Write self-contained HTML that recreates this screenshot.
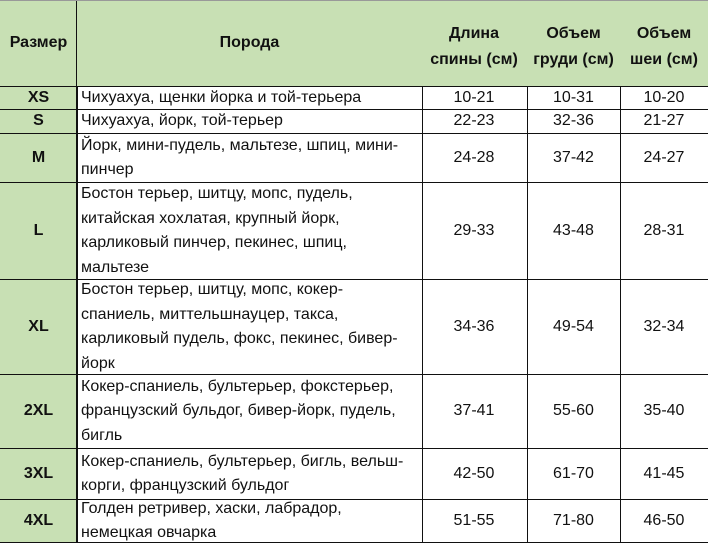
<!DOCTYPE html><html><head><style>
body{margin:0;width:708px;height:543px;background:#fff;font-family:"Liberation Sans",sans-serif;font-size:16px;color:#111;position:relative;overflow:hidden}
.c{position:absolute;box-sizing:border-box;border-right:1.5px solid #111;border-bottom:1.5px solid #111;display:flex;align-items:center;justify-content:center;text-align:center;line-height:24.5px;white-space:nowrap}
.g{background:#c8e0b4;font-weight:bold}
.b{justify-content:flex-start;text-align:left;padding-left:4px}
</style></head><body>
<div style="position:absolute;left:0;top:0;width:708px;height:2px;background:#999"></div>
<div class="c g" style="left:0;top:1px;width:78px;height:86px">Размер</div>
<div class="c g" style="left:76px;top:1px;width:347px;height:86px;border-left:1.5px solid #111">Порода</div>
<div class="c g" style="left:421px;top:1px;width:107px;height:86px;padding-top:6px;line-height:26px">Длина<br>спины (см)</div>
<div class="c g" style="left:527px;top:1px;width:94px;height:86px;padding-top:6px;line-height:26px">Объем<br>груди (см)</div>
<div class="c g" style="left:620px;top:1px;width:88px;height:86px;padding-top:6px;line-height:26px;border-right:none">Объем<br>шеи (см)</div>
<div id="rows"></div>
<script>
var r=[[87,110,"XS","Чихуахуа, щенки йорка и той-терьера","10-21","10-31","10-20"],
[110,134,"S","Чихуахуа, йорк, той-терьер","22-23","32-36","21-27"],
[134,183,"M","Йорк, мини-пудель, мальтезе, шпиц, мини-<br>пинчер","24-28","37-42","24-27"],
[183,280,"L","Бостон терьер, шитцу, мопс, пудель,<br>китайская хохлатая, крупный йорк,<br>карликовый пинчер, пекинес, шпиц,<br>мальтезе","29-33","43-48","28-31"],
[280,375,"XL","Бостон терьер, шитцу, мопс, кокер-<br>спаниель, миттельшнауцер, такса,<br>карликовый пудель, фокс, пекинес, бивер-<br>йорк","34-36","49-54","32-34"],
[375,449,"2XL","Кокер-спаниель, бультерьер, фокстерьер,<br>французский бульдог, бивер-йорк, пудель,<br>бигль","37-41","55-60","35-40"],
[449,500,"3XL","Кокер-спаниель, бультерьер, бигль, вельш-<br>корги, французский бульдог","42-50","61-70","41-45"],
[500,543,"4XL","Голден ретривер, хаски, лабрадор,<br>немецкая овчарка","51-55","71-80","46-50"]];
var h="";r.forEach(function(x){var t=x[0],hh=x[1]-x[0];
h+='<div class="c g" style="left:0;top:'+t+'px;width:78px;height:'+hh+'px">'+x[2]+'</div>';
h+='<div class="c b" style="left:76px;top:'+t+'px;width:347px;height:'+hh+'px;border-left:1.5px solid #111">'+x[3]+'</div>';
h+='<div class="c" style="left:421px;top:'+t+'px;width:107px;height:'+hh+'px">'+x[4]+'</div>';
h+='<div class="c" style="left:527px;top:'+t+'px;width:94px;height:'+hh+'px">'+x[5]+'</div>';
h+='<div class="c" style="left:620px;top:'+t+'px;width:88px;height:'+hh+'px;border-right:none">'+x[6]+'</div>';});
document.getElementById("rows").outerHTML=h;
</script>
</body></html>
